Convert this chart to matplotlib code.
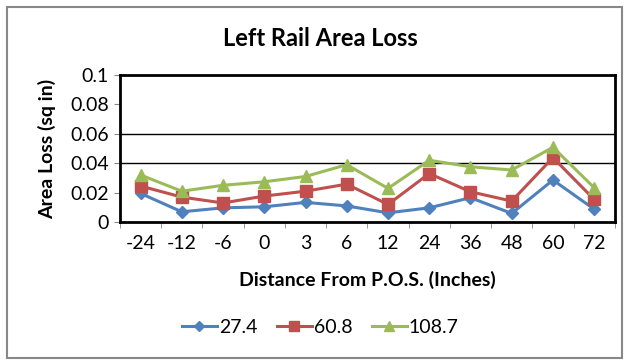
import numpy as np
import matplotlib
matplotlib.use('agg')
import matplotlib.pyplot as plt
from matplotlib.patches import Rectangle

plt.rcParams['font.family'] = ['Lato', 'DejaVu Sans']

distances = ['-24', '-12', '-6', '0', '3', '6', '12', '24', '36', '48', '60', '72']
loss_27_4 = [0.0195, 0.007, 0.0097, 0.0104, 0.0134, 0.011, 0.0063, 0.0097, 0.0166, 0.0059, 0.0286, 0.0088]
loss_60_8 = [0.0245, 0.017, 0.013, 0.0177, 0.021, 0.0258, 0.012, 0.033, 0.0206, 0.0143, 0.0438, 0.0154]
loss_108_7 = [0.032, 0.021, 0.025, 0.0274, 0.031, 0.039, 0.0229, 0.042, 0.0376, 0.0354, 0.0508, 0.0234]

fig = plt.figure(figsize=(6.28, 3.6), dpi=100)
ax = fig.add_axes([0.191, 0.383, 0.788, 0.409])

x = np.arange(len(distances))
ax.plot(x, loss_27_4, color='#4F81BD', marker='D', markersize=6, lw=2.2, label='27.4')
ax.plot(x, loss_60_8, color='#C0504D', marker='s', markersize=9, lw=2.2, label='60.8')
ax.plot(x, loss_108_7, color='#9BBB59', marker='^', markersize=9, lw=2.2, label='108.7')

ax.set_xlim(-0.5, len(distances) - 0.5)
ax.set_ylim(0, 0.1)
ax.set_yticks([0, 0.02, 0.04, 0.06, 0.08, 0.1])
ax.set_yticklabels(['0', '0.02', '0.04', '0.06', '0.08', '0.1'], fontsize=14)
ax.set_xticks(x)
ax.set_xticklabels(distances, fontsize=14)
ax.set_xticks(np.arange(-0.5, len(distances), 1), minor=True)
ax.tick_params(axis='x', which='major', length=0, pad=9)
ax.tick_params(axis='x', which='minor', length=4, direction='out', color='#888888')
ax.tick_params(axis='y', length=4, direction='out', color='#888888', pad=4)

for yv in [0.04, 0.06]:
    ax.axhline(yv, color='black', lw=1, zorder=0)
for sp in ax.spines.values():
    sp.set_linewidth(2)

ax.set_xlabel('Distance From P.O.S. (Inches)', fontsize=14, fontweight='bold', labelpad=14)
ax.set_ylabel('Area Loss (sq in)', fontsize=14, fontweight='bold', labelpad=10)
fig.text(0.51, 0.893, 'Left Rail Area Loss', fontsize=17, fontweight='bold',
         ha='center', va='center')

leg = fig.legend(loc='center', bbox_to_anchor=(0.51, 0.09), ncol=3, frameon=False,
                 fontsize=14, handlelength=1.8, handletextpad=0.1, columnspacing=1.0,
                 markerscale=0.8)

fig.patches.append(Rectangle((0.011, 0.005), 0.98, 0.975, transform=fig.transFigure,
                             fill=False, edgecolor='#888888', lw=1.5))

fig.savefig('out.png', dpi=100)
